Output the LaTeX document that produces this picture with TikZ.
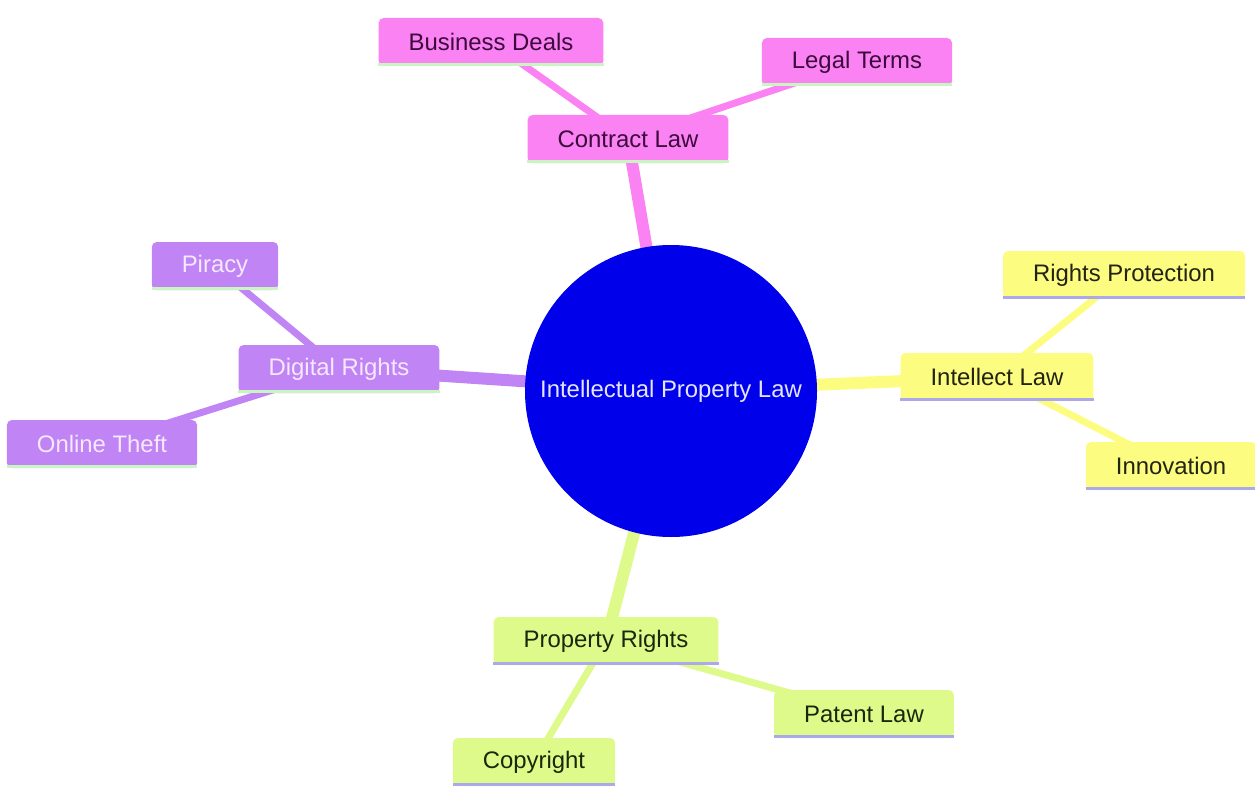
\documentclass[tikz,border=0pt]{standalone}
\usepackage{fontspec}
\setmainfont{Liberation Sans}
\usetikzlibrary{backgrounds}
\definecolor{pinkf}{RGB}{250,130,242}
\definecolor{purpf}{RGB}{192,132,245}
\definecolor{yellf}{RGB}{252,252,128}
\definecolor{greenf}{RGB}{222,250,138}
\definecolor{rootf}{RGB}{0,0,235}
\definecolor{greenline}{RGB}{200,245,192}
\definecolor{lavline}{RGB}{172,168,236}
\definecolor{pinkt}{RGB}{60,10,60}
\definecolor{purpt}{RGB}{245,232,255}
\definecolor{yellt}{RGB}{35,35,20}
\definecolor{greent}{RGB}{25,40,10}
\definecolor{roott}{RGB}{228,228,255}
\tikzset{
  mm/.style={rectangle, rounded corners=5pt, inner xsep=30pt, inner ysep=0pt,
    minimum height=48pt, font=\fontsize{23.9}{28}\selectfont},
  pinkbox/.style={mm, fill=pinkf, text=pinkt},
  purpbox/.style={mm, fill=purpf, text=purpt},
  yellbox/.style={mm, fill=yellf, text=yellt},
  greenbox/.style={mm, fill=greenf, text=greent},
  rootnode/.style={circle, fill=rootf, text=roott, minimum size=292pt, inner sep=0pt,
    font=\fontsize{23.9}{28}\selectfont},
  e1/.style={line width=12pt},
  e2/.style={line width=7pt},
  bline/.style={line width=3pt}
}
\begin{document}
\begin{tikzpicture}[x=1pt,y=-1pt]
\useasboundingbox (0,0) rectangle (1255,789);
\node[rootnode] (root) at (671,391) {Intellectual Property Law};
% pink
\node[pinkbox] (contract) at (628,139) {Contract Law};
\node[pinkbox] (business) at (491,42) {Business Deals};
\node[pinkbox] (legal) at (857,62) {Legal Terms};
% purple
\node[purpbox] (digital) at (339,369) {Digital Rights};
\node[purpbox] (piracy) at (215,266) {Piracy};
\node[purpbox] (online) at (102,444) {Online Theft};
% yellow
\node[yellbox] (intellect) at (997,377) {Intellect Law};
\node[yellbox] (rights) at (1124,275) {Rights Protection};
\node[yellbox] (innov) at (1171,466) {Innovation};
% green
\node[greenbox] (property) at (606,641) {Property Rights};
\node[greenbox] (patent) at (864,714) {Patent Law};
\node[greenbox] (copy) at (534,762) {Copyright};
% bottom lines
\foreach \n in {contract,business,legal,digital,piracy,online}
  \draw[bline, greenline] ([yshift=1.5pt]\n.south west) -- ([yshift=1.5pt]\n.south east);
\foreach \n in {intellect,rights,innov,property,patent,copy}
  \draw[bline, lavline] ([yshift=1.5pt]\n.south west) -- ([yshift=1.5pt]\n.south east);
\begin{pgfonlayer}{background}
\draw[e1, pinkf] (root.center) -- (contract.center);
\draw[e2, pinkf] (contract.center) -- (business.center);
\draw[e2, pinkf] (contract.center) -- (legal.center);
\draw[e1, purpf] (root.center) -- (digital.center);
\draw[e2, purpf] (digital.center) -- (piracy.center);
\draw[e2, purpf] (digital.center) -- (online.center);
\draw[e1, yellf] (root.center) -- (intellect.center);
\draw[e2, yellf] (intellect.center) -- (rights.center);
\draw[e2, yellf] (intellect.center) -- (innov.center);
\draw[e1, greenf] (root.center) -- (property.center);
\draw[e2, greenf] (property.center) -- (patent.center);
\draw[e2, greenf] (property.center) -- (copy.center);
\end{pgfonlayer}
\end{tikzpicture}
\end{document}
